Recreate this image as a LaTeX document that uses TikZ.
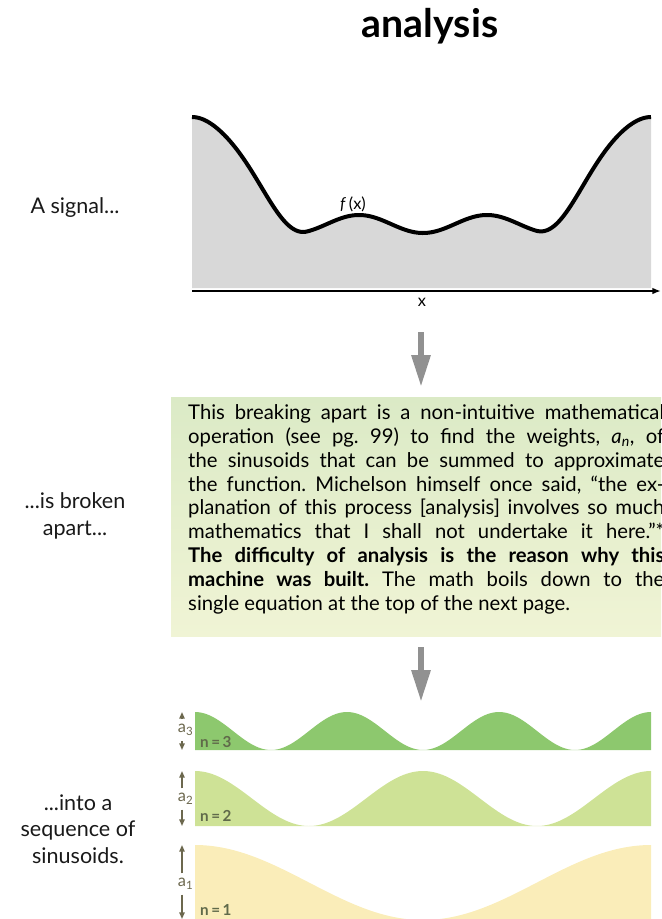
\documentclass[tikz,border=0pt]{standalone}
\usepackage{fontspec}
\setmainfont{Lato}
\usepackage{tikz}
\usetikzlibrary{
  arrows.meta,
  positioning
}
\definecolor{SignalGray}{RGB}{216,216,216}
\definecolor{ArrowGray}{RGB}{145,145,145}
\definecolor{BoxTop}{RGB}{219,234,198}
\definecolor{BoxBottom}{RGB}{240,244,213}
\definecolor{WaveThree}{RGB}{141,200,110}
\definecolor{WaveTwo}{RGB}{206,226,150}
\definecolor{WaveOne}{RGB}{250,237,185}
\definecolor{AmpOlive}{RGB}{108,104,78}
\definecolor{LabelOlive}{RGB}{96,106,74}
\tikzset{
  sidelabel/.style={align=center,font=\fontsize{18.4}{22.5}\selectfont,text=black!90},
  bigarrow/.style={draw=ArrowGray,line width=1.8mm,-{Triangle[length=9.6mm,width=5.4mm]}},
  breakbox/.style={anchor=north west,top color=BoxTop,bottom color=BoxBottom,draw=none,minimum width=147mm,minimum height=71.7mm,inner sep=0pt},
  breaktext/.style={anchor=base west,text width=142.8mm,align=justify,inner sep=0pt,font=\fontsize{17.3}{20.4}\selectfont\frenchspacing},
  amplab/.style={text=AmpOlive,inner sep=1.5mm,font=\fontsize{14}{16}\selectfont},
  ampar/.style={-{Triangle[length=2mm,width=1.6mm]},draw=AmpOlive,line width=0.45mm},
  nlab/.style={anchor=base west,text=LabelOlive,inner sep=0pt,font=\fontsize{13}{15}\bfseries},
  axislab/.style={font=\fontsize{14}{16}\selectfont}
}

\begin{document}
\begin{tikzpicture}[x=0.3mm,y=-0.3mm,
  declare function={
    wall(\d)=(1+cos(min(\d,115)*1.5652))/2;
    sig(\t)=117*(wall(\t-192)+wall(651-\t))+(224+9*cos((\t-295)*2.8125))*(1-wall(\t-192)-wall(651-\t));
  }]
\useasboundingbox (0,0) rectangle (661,919);

\node[anchor=base,font=\fontsize{33.5}{38}\bfseries] (title) at (430,37) {analysis};

% the signal
\fill[SignalGray] (192,288) -- plot[domain=192:651,samples=200] (\x,{sig(\x)}) -- (651,288) -- cycle;
\draw[line width=1.2mm,line join=round] plot[domain=192:651,samples=200] (\x,{sig(\x)});
\coordinate (xstart) at (192,291);
\coordinate (xend) at (661,291);
\draw[line width=0.6mm,-{Latex[length=2.6mm,width=2mm]}] (xstart) -- (xend);
\node[axislab] (fx) at (353,204) {\textit{f}\,(x)};
\node[axislab] (xlab) at (422,302) {x};
\node[sidelabel] (signal) at (75,208) {A signal...};

% breaking apart
\coordinate (sigout) at (421,332);
\coordinate (boxin) at (421,387);
\draw[bigarrow] (sigout) -- (boxin);
\node[breakbox] (box) at (171,397) {};
\node[breaktext] (explain) at (188,419.3) {This breaking apart is a non-intuitive mathematical\linebreak
operation (see pg.~99) to find the weights, \textit{a\textsubscript{n}}, of\linebreak
the sinusoids that can be summed to approximate\linebreak
the function. Michelson himself once said, “the ex-\linebreak
planation of this process [analysis] involves so much\linebreak
mathematics that I shall not undertake it here.”*\linebreak
\textbf{The difficulty of analysis is the reason why this\linebreak
machine was built.} The math boils down to the\linebreak
single equation at the top of the next page.};
\node[sidelabel] (broken) at (75,516) {...is broken\\apart...};

% the sinusoids
\coordinate (boxout) at (421,647);
\coordinate (wavein) at (421,702);
\draw[bigarrow] (boxout) -- (wavein);

\fill[WaveThree] (195,750) -- plot[domain=195:651,samples=150] (\x,{750-19*(1+cos((\x-195)*2.36842))}) -- (651,750) -- cycle;
\fill[WaveTwo] (195,826) -- plot[domain=195:651,samples=150] (\x,{826-27.5*(1+cos((\x-195)*1.57895))}) -- (651,826) -- cycle;
\fill[WaveOne] (195,920) -- plot[domain=195:651,samples=150] (\x,{920-37.5*(1+cos((\x-195)*0.78947))}) -- (651,920) -- cycle;

\node[nlab] (n3) at (200,747) {n\,=\,3};
\node[nlab] (n2) at (200,821) {n\,=\,2};
\node[nlab] (n1) at (200,915) {n\,=\,1};

\node[amplab] (a3) at (182,730) {a\rlap{\textsubscript{3}}};
\coordinate (a3top) at (182,712);
\coordinate (a3bot) at (182,750);
\draw[ampar] (a3.north) -- (a3top);
\draw[ampar] (a3.south) -- (a3bot);

\node[amplab] (a2) at (182,799) {a\rlap{\textsubscript{2}}};
\coordinate (a2top) at (182,771);
\coordinate (a2bot) at (182,826);
\draw[ampar] (a2.north) -- (a2top);
\draw[ampar] (a2.south) -- (a2bot);

\node[amplab] (a1) at (182,884) {a\rlap{\textsubscript{1}}};
\coordinate (a1top) at (182,845);
\coordinate (a1bot) at (182,919);
\draw[ampar] (a1.north) -- (a1top);
\draw[ampar] (a1.south) -- (a1bot);

\node[sidelabel] (sequence) at (78,829) {...into a\\sequence of\\sinusoids.};
\end{tikzpicture}
\end{document}
